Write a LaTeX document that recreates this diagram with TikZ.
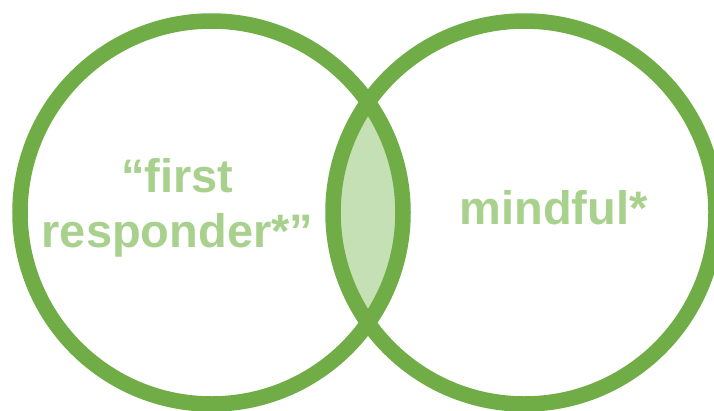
\documentclass[tikz,border=0pt]{standalone}
\usepackage{fontspec}
\setmainfont{Liberation Sans}
\usepackage{tikz}
\definecolor{setgreen}{HTML}{70AD47}
\definecolor{lensgreen}{HTML}{C5E0B4}
\definecolor{labelgreen}{HTML}{A9D18E}

\begin{document}
\begin{tikzpicture}[x=1pt, y=-1pt,
    setring/.style={circle, draw=setgreen, line width=15.5pt, minimum size=383pt, inner sep=0pt},
    setlabel/.style={text=labelgreen, font=\fontsize{47}{55}\selectfont\bfseries, align=center, inner sep=0pt}]
    % page frame
    \fill[white] (0,0) rectangle (714,410);
    \useasboundingbox (0,0) rectangle (714,410);
    % overlap of the two sets
    \begin{scope}
        \clip (211.5,212.5) circle (191.5pt);
        \fill[lensgreen] (524.5,212.5) circle (191.5pt);
    \end{scope}
    % the two sets
    \node[setring] (responder) at (211.5,212.5) {};
    \node[setring] (mindful) at (524.5,212.5) {};
    % labels
    \node[setlabel, anchor=base] (responderlabel) at (177.5,247) {“first\\responder*”};
    \node[setlabel, anchor=base] (mindfullabel) at (553.5,224) {mindful*};
\end{tikzpicture}
\end{document}
